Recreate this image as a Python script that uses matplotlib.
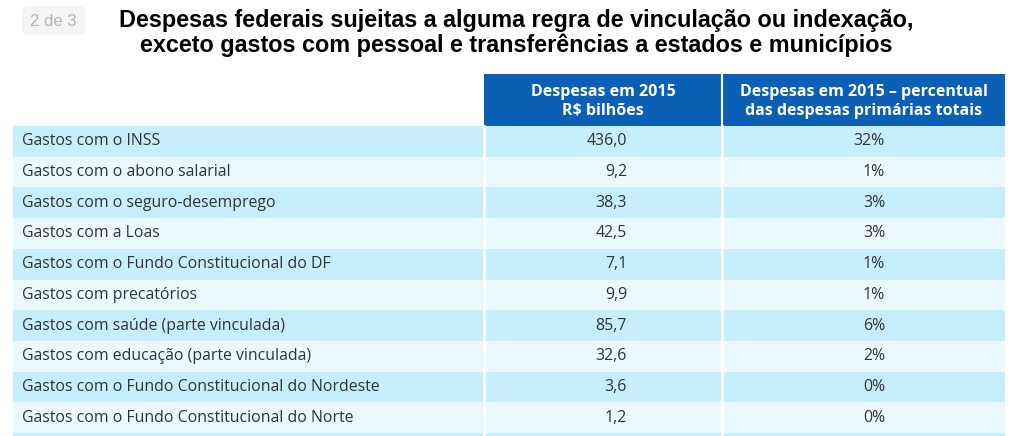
import matplotlib
matplotlib.use("Agg")
import matplotlib.pyplot as plt
from matplotlib.patches import Rectangle, FancyBboxPatch

# data
categorias = [
    "Gastos com o INSS",
    "Gastos com o abono salarial",
    "Gastos com o seguro-desemprego",
    "Gastos com a Loas",
    "Gastos com o Fundo Constitucional do DF",
    "Gastos com precatórios",
    "Gastos com saúde (parte vinculada)",
    "Gastos com educação (parte vinculada)",
    "Gastos com o Fundo Constitucional do Nordeste",
    "Gastos com o Fundo Constitucional do Norte",
]
despesas_bi = [436.0, 9.2, 38.3, 42.5, 7.1, 9.9, 85.7, 32.6, 3.6, 1.2]
percentual = [32, 1, 3, 3, 1, 1, 6, 2, 0, 0]

cabecalho = ["Despesas em 2015\nR$ bilhões",
             "Despesas em 2015 – percentual\ndas despesas primárias totais"]
titulo = ("Despesas federais sujeitas a alguma regra de vinculação ou indexação,\n"
          "exceto gastos com pessoal e transferências a estados e municípios")

# layout (pixels)
W, H = 1024, 436
x0, x1, x2, x3 = 13, 484, 722, 1005
head_top, head_bot = 74, 126
row_h = 30.7
num_right = 627
pct_right = 885

azul = "#0b60b5"
linha_a = "#c6eefc"
linha_b = "#ebf9fe"
texto = "#333333"
fonte = ["Open Sans", "DejaVu Sans"]

fig = plt.figure(figsize=(W / 100, H / 100), dpi=100)
ax = fig.add_axes([0, 0, 1, 1])
ax.set_xlim(0, W)
ax.set_ylim(H, 0)
ax.axis("off")

# badge
ax.add_patch(FancyBboxPatch((22, 6), 63, 29, boxstyle="round,pad=0,rounding_size=6",
                            fc="#f5f5f5", ec="none"))
ax.text(53, 21, "2 de 3", ha="center", va="center", fontsize=12,
        color="#b5b5b5", family="Liberation Sans")

ax.text(516, 33, titulo, ha="center", va="center", fontsize=16.8,
        fontweight="bold", color="black", family="Liberation Sans",
        linespacing=1.12)

# header
for i, (xa, xb) in enumerate([(x1, x2), (x2, x3)]):
    ax.add_patch(Rectangle((xa, head_top), xb - xa, head_bot - head_top,
                           fc=azul, ec="none"))
    ax.text((xa + xb) / 2, (head_top + head_bot) / 2 + 1, cabecalho[i],
            ha="center", va="center", color="white", fontsize=11.5,
            fontweight="bold", family="Open Sans", linespacing=1.25)
ax.plot([x2, x2], [head_top, head_bot], color="white", lw=1.5)

# rows
for i, (cat, v, p) in enumerate(zip(categorias, despesas_bi, percentual)):
    y = head_bot + i * row_h
    cor = linha_a if i % 2 == 0 else linha_b
    ax.add_patch(Rectangle((x0, y), x3 - x0, row_h, fc=cor, ec="none"))
    yc = y + row_h / 2
    ax.text(x0 + 9, yc, cat, ha="left", va="center", fontsize=11.4,
            color=texto, family=fonte)
    ax.text(num_right, yc, f"{v:.1f}".replace(".", ","), ha="right",
            va="center", fontsize=11.4, color=texto, family=fonte)
    ax.text(pct_right, yc, f"{p}%", ha="right", va="center", fontsize=11.4,
            color=texto, family=fonte)

# partial next row at the bottom edge
y_end = head_bot + len(categorias) * row_h
ax.add_patch(Rectangle((x0, y_end), x3 - x0, row_h, fc=linha_a, ec="none"))

for xs in (x1, x2):
    ax.plot([xs, xs], [head_bot, H], color="white", lw=2)

fig.savefig("out.png", dpi=100)
